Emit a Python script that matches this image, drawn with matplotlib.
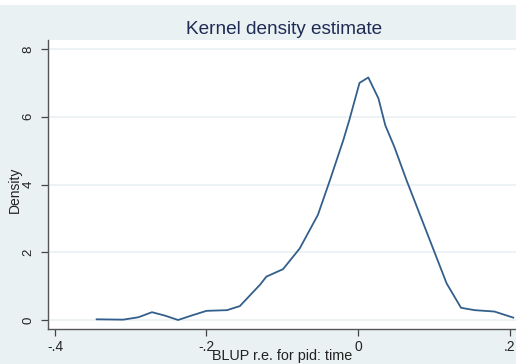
import matplotlib

matplotlib.use("Agg")
import matplotlib.pyplot as plt
from matplotlib.patches import Rectangle

# kernel density of the BLUP random effects
blup = [-0.345, -0.31, -0.29, -0.272, -0.255, -0.2375, -0.22, -0.2, -0.173, -0.156,
        -0.129, -0.121, -0.099, -0.077, -0.053, -0.037, -0.0194, -0.0115, 0.002,
        0.0136, 0.027, 0.036, 0.048, 0.064, 0.088, 0.117, 0.136, 0.154, 0.180, 0.205]
density = [0.02, 0.01, 0.08, 0.23, 0.13, 0.0, 0.13, 0.27, 0.29, 0.41,
           1.05, 1.28, 1.50, 2.11, 3.10, 4.13, 5.31, 5.90, 7.0,
           7.16, 6.54, 5.75, 5.11, 4.13, 2.75, 1.08, 0.36, 0.29, 0.25, 0.07]

xticks = [-0.4, -0.2, 0.0, 0.2]
xticklabels = ["-.4", "-.2", "0", ".2"]
yticks = [0, 2, 4, 6, 8]

plt.rcParams["font.family"] = ["Liberation Sans", "DejaVu Sans"]

W, H = 516, 364
fig = plt.figure(figsize=(W / 100, H / 100), dpi=100, facecolor="white")
fig.patches.append(Rectangle((0, 0), 1, 1 - 5 / H, transform=fig.transFigure,
                             facecolor="#eaf1f3", edgecolor="none", zorder=-1))

ax = fig.add_axes([48 / W, 1 - 329 / H, (W - 48) / W, (329 - 40) / H])
ax.set_facecolor("white")
ax.plot(blup, density, color="#335f8c", lw=1.3)

ax.set_xlim(-0.40924, 0.20858)
ax.set_ylim(-0.266, 8.266)
ax.set_xticks(xticks)
ax.set_xticklabels(xticklabels)
ax.set_yticks(yticks)
ax.set_yticklabels([str(t) for t in yticks], rotation=90, va="center")
ax.tick_params(colors="#444444", labelcolor="#222222", length=5, width=0.9)
ax.tick_params(axis="x", labelsize=10, pad=3)
ax.tick_params(axis="y", labelsize=9.5, pad=4.5)
ax.grid(axis="y", color="#eaf1f3", lw=1.2)
ax.set_axisbelow(True)
for side in ["top", "right"]:
    ax.spines[side].set_visible(False)
for side in ["left", "bottom"]:
    ax.spines[side].set_color("#555555")
    ax.spines[side].set_linewidth(1.0)

fig.text(15 / W, 1 - 189.5 / H, "Density", rotation=90, ha="center", va="center",
         fontsize=10, color="#222222")
fig.text(282 / W, 1 - 360 / H, "BLUP r.e. for pid: time", ha="center", va="baseline",
         fontsize=10.4, color="#222222")
fig.text(284 / W, 1 - 30 / H, "Kernel density estimate", ha="center", va="center",
         fontsize=13.7, color="#1e2b55")

fig.savefig("out.png", dpi=100, facecolor=fig.get_facecolor())
